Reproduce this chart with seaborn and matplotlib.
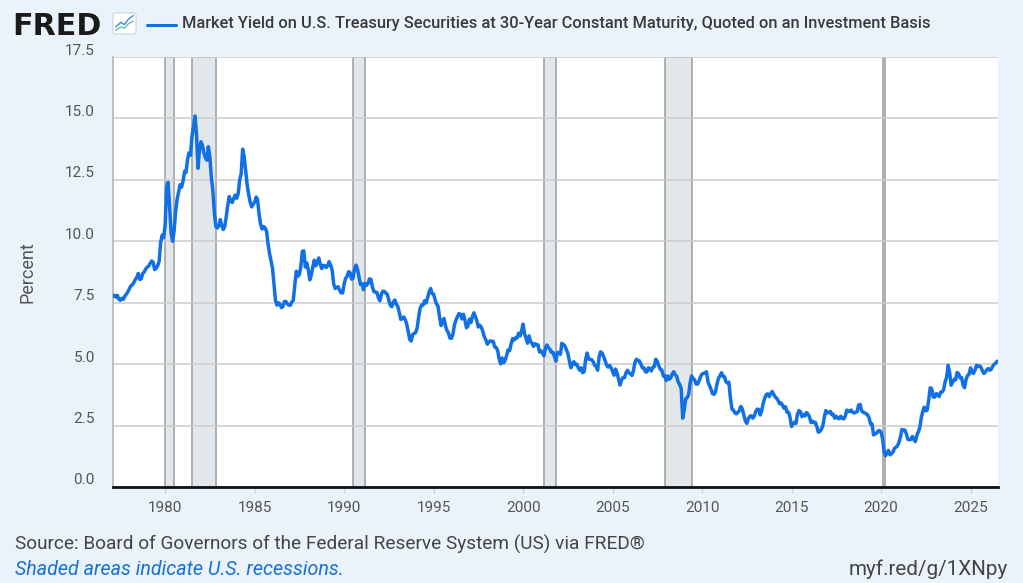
import numpy as np
import pandas as pd
import matplotlib
matplotlib.use("Agg")
import matplotlib.pyplot as plt
import matplotlib.transforms as mtransforms
from matplotlib.lines import Line2D
from matplotlib.patches import FancyBboxPatch
import seaborn as sns

# ---------------- data (monthly, % ) ----------------
first_month = "1977-02-01"

yields_1977_1979 = [
    7.75, 7.80, 7.73, 7.80, 7.64, 7.60, 7.68, 7.64, 7.77, 7.85, 7.94,
    8.07, 8.19, 8.22, 8.32, 8.44, 8.53, 8.69, 8.45, 8.47, 8.69, 8.75, 8.88,
    8.94, 9.00, 9.10, 9.20, 9.15, 8.85, 8.90, 9.00, 9.20, 9.95, 10.25, 10.15,
]
yields_1980s = [
    10.65, 12.20, 12.40, 11.40, 10.35, 10.00, 10.40, 11.20, 11.70, 12.00, 12.30, 12.20,
    12.45, 12.85, 12.80, 13.30, 13.60, 13.50, 14.25, 14.65, 15.10, 14.40, 12.97, 13.70,
    14.05, 13.90, 13.60, 13.40, 13.30, 13.85, 13.45, 12.60, 12.07, 11.17, 10.60, 10.54,
    10.63, 10.88, 10.63, 10.48, 10.60, 11.00, 11.45, 11.82, 11.63, 11.58, 11.75, 11.88,
    11.75, 11.95, 12.50, 12.75, 13.75, 13.45, 12.90, 12.30, 11.90, 11.60, 11.40, 11.50,
    11.60, 11.80, 11.70, 11.10, 10.70, 10.50, 10.60, 10.55, 10.40, 9.90, 9.50, 9.20,
    8.90, 8.20, 7.60, 7.40, 7.50, 7.45, 7.30, 7.35, 7.55, 7.55, 7.45, 7.40,
    7.40, 7.54, 7.60, 8.25, 8.78, 8.57, 8.64, 8.97, 9.59, 9.61, 8.95, 9.12,
    8.83, 8.43, 8.63, 8.95, 9.23, 9.00, 9.14, 9.32, 9.06, 8.89, 9.02, 9.01,
    8.93, 9.01, 9.17, 9.03, 8.83, 8.27, 8.08, 8.12, 8.15, 8.00, 7.90, 7.90,
]
yields_1990s = [
    8.26, 8.50, 8.56, 8.76, 8.73, 8.46, 8.50, 8.86, 9.03, 8.86, 8.54, 8.24,
    8.27, 8.03, 8.29, 8.21, 8.27, 8.47, 8.45, 8.14, 7.95, 7.93, 7.92, 7.70,
    7.58, 7.85, 7.97, 7.96, 7.89, 7.84, 7.60, 7.39, 7.34, 7.53, 7.61, 7.44,
    7.34, 7.09, 6.82, 6.85, 6.92, 6.81, 6.63, 6.32, 6.00, 5.94, 6.21, 6.25,
    6.29, 6.49, 6.91, 7.27, 7.41, 7.40, 7.58, 7.49, 7.71, 7.94, 8.08, 7.87,
    7.85, 7.61, 7.45, 7.36, 6.95, 6.57, 6.72, 6.86, 6.55, 6.37, 6.26, 6.06,
    6.05, 6.24, 6.60, 6.79, 6.93, 7.06, 7.03, 6.84, 7.03, 6.81, 6.48, 6.55,
    6.83, 6.69, 6.93, 7.09, 6.94, 6.77, 6.51, 6.58, 6.50, 6.33, 6.11, 5.99,
    5.81, 5.89, 5.95, 5.92, 5.93, 5.70, 5.68, 5.54, 5.20, 5.01, 5.25, 5.06,
    5.16, 5.37, 5.58, 5.55, 5.81, 6.04, 5.98, 6.07, 6.07, 6.26, 6.15, 6.35,
]
yields_2000s = [
    6.63, 6.23, 6.05, 5.85, 6.15, 5.93, 5.85, 5.72, 5.83, 5.80, 5.78, 5.49,
    5.54, 5.45, 5.34, 5.65, 5.78, 5.67, 5.61, 5.48, 5.48, 5.32, 5.12, 5.48,
    5.45, 5.40, 5.85, 5.80, 5.75, 5.60, 5.45, 5.15, 4.85, 5.00, 5.10, 4.98,
    5.00, 4.85, 4.75, 4.85, 4.65, 4.70, 5.20, 5.45, 5.20, 5.20, 5.18, 5.10,
    4.95, 4.90, 4.75, 5.30, 5.50, 5.45, 5.30, 5.15, 4.95, 4.88, 4.95, 4.85,
    4.70, 4.55, 4.80, 4.65, 4.40, 4.15, 4.35, 4.45, 4.45, 4.65, 4.75, 4.65,
    4.60, 4.54, 4.73, 5.06, 5.20, 5.15, 5.13, 5.00, 4.85, 4.85, 4.69, 4.68,
    4.85, 4.82, 4.72, 4.87, 4.90, 5.20, 5.11, 4.93, 4.79, 4.77, 4.52, 4.53,
    4.33, 4.52, 4.39, 4.44, 4.60, 4.69, 4.57, 4.50, 4.27, 4.17, 4.00, 2.80,
    3.13, 3.59, 3.64, 3.76, 4.23, 4.52, 4.41, 4.37, 4.19, 4.19, 4.31, 4.49,
]
yields_2010s = [
    4.60, 4.62, 4.64, 4.69, 4.29, 4.13, 3.99, 3.80, 3.77, 3.87, 4.19, 4.42,
    4.52, 4.65, 4.51, 4.50, 4.29, 4.23, 4.27, 3.65, 3.18, 3.13, 3.02, 2.98,
    3.03, 3.11, 3.28, 3.18, 2.93, 2.70, 2.59, 2.77, 2.88, 2.90, 2.80, 2.88,
    3.08, 3.17, 3.16, 2.93, 3.11, 3.40, 3.61, 3.76, 3.79, 3.68, 3.80, 3.89,
    3.77, 3.66, 3.62, 3.52, 3.39, 3.42, 3.33, 3.20, 3.26, 3.04, 3.04, 2.83,
    2.46, 2.57, 2.63, 2.59, 2.96, 3.11, 3.07, 2.86, 2.95, 2.89, 3.03, 2.97,
    2.86, 2.62, 2.68, 2.62, 2.63, 2.45, 2.23, 2.26, 2.35, 2.50, 2.86, 3.11,
    3.02, 3.03, 3.08, 2.94, 2.96, 2.80, 2.88, 2.80, 2.78, 2.88, 2.80, 2.77,
    2.88, 3.13, 3.09, 3.07, 3.13, 3.05, 3.01, 3.04, 3.07, 3.34, 3.36, 3.10,
    3.04, 3.02, 2.98, 2.94, 2.82, 2.57, 2.57, 2.12, 2.16, 2.19, 2.28, 2.30,
]
yields_2020s = [
    2.22, 1.97, 1.46, 1.27, 1.38, 1.49, 1.31, 1.36, 1.42, 1.57, 1.62, 1.67,
    1.82, 2.04, 2.34, 2.30, 2.32, 2.16, 1.94, 1.92, 1.94, 2.06, 1.94, 1.85,
    2.10, 2.25, 2.41, 2.81, 3.07, 3.25, 3.10, 3.13, 3.56, 4.04, 4.00, 3.66,
    3.66, 3.80, 3.77, 3.68, 3.86, 3.87, 3.96, 4.28, 4.47, 4.95, 4.66, 4.14,
    4.26, 4.38, 4.36, 4.66, 4.62, 4.44, 4.46, 4.15, 4.04, 4.38, 4.54, 4.58,
    4.85, 4.68, 4.62, 4.75, 4.95, 4.90, 4.93, 4.88, 4.72, 4.62, 4.68, 4.78,
    4.82, 4.75, 4.80, 4.92, 5.00, 5.05, 5.12,
]

recession_starts = ["1980-01-01", "1981-07-01", "1990-07-01", "2001-03-01", "2007-12-01", "2020-02-01"]
recession_ends = ["1980-07-01", "1982-11-01", "1991-03-01", "2001-11-01", "2009-06-01", "2020-04-01"]

year_ticks = [1980, 1985, 1990, 1995, 2000, 2005, 2010, 2015, 2020, 2025]
pct_ticks = [0.0, 2.5, 5.0, 7.5, 10.0, 12.5, 15.0, 17.5]

title_text = "Market Yield on U.S. Treasury Securities at 30-Year Constant Maturity, Quoted on an Investment Basis"
source_text = "Source: Board of Governors of the Federal Reserve System (US) via FRED\u00ae"
note_text = "Shaded areas indicate U.S. recessions."
link_text = "myf.red/g/1XNpy"

# ---------------- build table ----------------
values = yields_1977_1979 + yields_1980s + yields_1990s + yields_2000s + yields_2010s + yields_2020s
df = pd.DataFrame({
    "date": pd.date_range(first_month, periods=len(values), freq="MS"),
    "yield": values,
})

# ---------------- style ----------------
BG = "#eaf2fb"
BLUE = "#1170e4"
GRID = "#cccccc"
TXT = "#555555"

sns.set_style("white")
plt.rcParams["font.family"] = ["Roboto", "DejaVu Sans"]

W, H = 1023, 583
fig = plt.figure(figsize=(W / 100, H / 100), dpi=100, facecolor=BG)
L, R, T, B = 113, 998, 57, 487
ax = fig.add_axes([L / W, 1 - B / H, (R - L) / W, (B - T) / H])
ax.set_facecolor("white")

for s, e in zip(recession_starts, recession_ends):
    ax.axvspan(pd.Timestamp(s), pd.Timestamp(e), facecolor="#e2e7ec",
               edgecolor="#a9a9a9", linewidth=1.3, zorder=0.3)

sns.lineplot(data=df, x="date", y="yield", ax=ax, color=BLUE, linewidth=2.5, zorder=3)

ax.set_xlim(pd.Timestamp("1977-02-01"), pd.Timestamp("2026-07-15"))
ax.set_ylim(0, 17.5)
ax.set_xticks([pd.Timestamp(f"{y}-01-01") for y in year_ticks])
ax.set_xticklabels([str(y) for y in year_ticks])
ax.set_yticks(pct_ticks)
ax.set_yticklabels([f"{v:.1f}" for v in pct_ticks])

ax.set_axisbelow(True)
ax.yaxis.grid(True, color=GRID, linewidth=1.1)
ax.xaxis.grid(False)

for side in ["top", "right"]:
    ax.spines[side].set_visible(False)
ax.spines["left"].set_color("#b0b0b0")
ax.spines["left"].set_linewidth(1.1)
ax.spines["bottom"].set_color("#111111")
ax.spines["bottom"].set_linewidth(2.0)
ax.spines["bottom"].set_zorder(4)

ax.tick_params(axis="x", length=4, width=1, color="#c5d3e2", pad=6,
               labelsize=11, labelcolor=TXT, direction="out", bottom=True)
ax.tick_params(axis="y", length=0, pad=13, labelsize=11, labelcolor=TXT, left=True)

offset = mtransforms.ScaledTranslation(0, 8 / 100, fig.dpi_scale_trans)
for lbl in ax.get_yticklabels():
    lbl.set_transform(lbl.get_transform() + offset)

ax.set_xlabel("")
ax.set_ylabel("Percent", fontsize=13, color=TXT)
ax.yaxis.set_label_coords((37 - L) / (R - L), 0.5)

# ---------------- header / footer ----------------
renderer = fig.canvas.get_renderer()


def fit_width(t, target_px):
    w = t.get_window_extent(renderer).width
    t.set_fontsize(t.get_fontsize() * target_px / w)


def fx(px):
    return px / W


def fy(py):
    return 1 - py / H


logo = fig.text(fx(12), fy(35), "FRED", fontsize=22, fontweight="bold",
                family=["DejaVu Sans"], color="#1a1a1a", ha="left", va="baseline")
fit_width(logo, 89)

icon_ax = fig.add_axes([fx(112), fy(35), 25 / W, 23 / H])
icon_ax.set_xlim(0, 1)
icon_ax.set_ylim(0, 1)
icon_ax.axis("off")
icon_ax.add_patch(FancyBboxPatch((0.04, 0.04), 0.92, 0.92, boxstyle="round,pad=0,rounding_size=0.1",
                                 facecolor="white", edgecolor="#c8d3de", linewidth=0.8))
icon_ax.plot([0.15, 0.35, 0.5, 0.65, 0.85], [0.35, 0.55, 0.45, 0.68, 0.85], color="#3a8de0", lw=1.0)
icon_ax.plot([0.15, 0.35, 0.5, 0.65, 0.85], [0.2, 0.35, 0.3, 0.48, 0.6], color="#5fbfa8", lw=1.0)

fig.add_artist(Line2D([fx(147), fx(176)], [fy(24.5), fy(24.5)], color=BLUE, linewidth=2.2))

title = fig.text(fx(182.5), fy(28.3), title_text, fontsize=11, color="#3a3a3a",
                 fontweight="medium", ha="left", va="baseline")
fit_width(title, 746)

src = fig.text(fx(15), fy(549.3), source_text, fontsize=12, color="#444444",
               ha="left", va="baseline")
fit_width(src, 628)

note = fig.text(fx(15), fy(575), note_text, fontsize=12, color="#1a6fd6",
                style="italic", ha="left", va="baseline")
fit_width(note, 328)

link = fig.text(fx(1008), fy(575), link_text, fontsize=12, color="#444444",
                ha="right", va="baseline")
fit_width(link, 159)

fig.savefig("out.png", dpi=100, facecolor=BG)
